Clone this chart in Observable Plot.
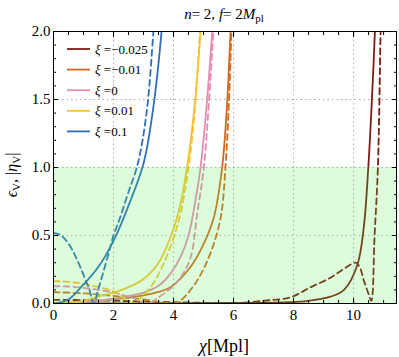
<!DOCTYPE html>
<html><head><meta charset="utf-8">
<script src="https://cdn.jsdelivr.net/npm/d3@7"></script>
<script src="https://cdn.jsdelivr.net/npm/@observablehq/plot@0.6"></script>
<style>body{margin:0;background:#fff} svg text, svg tspan{font-family:"Liberation Serif","Times New Roman",serif !important}</style>
</head><body><div id="chart"></div>
<script>
// xi values and colours
const xiLabels = ["\u22120.025", "\u22120.01", "0", "0.01", "0.1"];
const xiColors = ["#7a1c10", "#d2691e", "#e88ab2", "#f7c131", "#2f6dbf"];

// epsilon_V (solid) and |eta_V| (dashed) for each xi
const chiEpsA = [0, 2, 4, 6, 7.9, 8.5, 9.23, 9.68, 10.12, 10.34, 10.49, 10.6, 10.71, 10.78];
const epsA    = [0, 0.001, 0.002, 0.004, 0.01, 0.02, 0.05, 0.1, 0.28, 0.56, 1.0, 1.45, 2.0, 2.5];
const chiEtaA = [0, 1, 2, 3, 4, 5, 6, 7, 7.9, 8.57, 9.23, 9.68, 10.07, 10.2, 10.34, 10.5, 10.59, 10.7, 10.81, 10.9, 10.95];
const etaA    = [0.027, 0.025, 0.02, 0.015, 0.01, 0.005, 0.002, 0.02, 0.046, 0.12, 0.19, 0.255, 0.30, 0.27, 0.17, 0.07, 0.02, 0.5, 1.0, 2.0, 2.5];

const chiEpsB = [0, 1, 2, 3, 3.5, 3.9, 4.57, 5.01, 5.34, 5.62, 5.78, 5.9, 6.0];
const epsB    = [0.005, 0.012, 0.03, 0.06, 0.085, 0.12, 0.27, 0.44, 0.63, 1.0, 1.45, 2.0, 2.5];
const chiEtaB = [0, 1, 2, 3, 3.6, 4.0, 4.23, 4.79, 5.23, 5.57, 5.73, 5.85, 5.93, 6.02];
const etaB    = [0.083, 0.075, 0.055, 0.03, 0.01, 0, 0.02, 0.17, 0.37, 0.63, 1.0, 1.5, 2.0, 2.5];

const chiEpsC = [0, 1, 2, 2.5, 3, 3.5, 3.9, 4.25, 4.5, 4.7, 4.9, 5.1, 5.29, 5.4];
const epsC    = [0, 0.01, 0.035, 0.055, 0.08, 0.13, 0.22, 0.35, 0.5, 0.72, 1.0, 1.45, 2.0, 2.4];
const chiEtaC = [0, 0.5, 1, 1.5, 2, 2.5, 2.9, 3.15, 3.4, 3.9, 4.23, 4.57, 4.79, 5.01, 5.17, 5.33, 5.45];
const etaC    = [0.127, 0.125, 0.115, 0.1, 0.08, 0.05, 0.02, 0, 0.03, 0.11, 0.19, 0.34, 0.66, 1.0, 1.45, 2.0, 2.4];

const chiEpsD = [0, 1, 1.5, 2, 2.5, 3, 3.5, 4, 4.25, 4.45, 4.7, 4.9, 5.0];
const epsD    = [0, 0.02, 0.05, 0.08, 0.12, 0.18, 0.3, 0.55, 0.75, 1.0, 1.45, 2.0, 2.4];
const chiEtaD = [0, 0.5, 1, 1.5, 2, 2.3, 2.62, 2.9, 3.3, 3.6, 4, 4.25, 4.5, 4.7, 4.88, 5.0];
const etaD    = [0.165, 0.16, 0.145, 0.12, 0.09, 0.05, 0, 0.04, 0.14, 0.26, 0.48, 0.68, 1.0, 1.4, 2.0, 2.4];

const chiEpsE = [0, 0.5, 1, 1.5, 2, 2.5, 3, 3.3, 3.6, 3.75];
const epsE    = [0, 0.03, 0.14, 0.27, 0.46, 0.72, 1.03, 1.4, 2.0, 2.5];
const chiEtaE = [0, 0.25, 0.5, 0.75, 1.0, 1.2, 1.34, 1.5, 1.8, 2.0, 2.2, 2.5, 2.8, 3.1, 3.33, 3.45];
const etaE    = [0.52, 0.5, 0.44, 0.34, 0.21, 0.1, 0, 0.11, 0.34, 0.5, 0.62, 0.82, 1.02, 1.4, 2.0, 2.4];

const chiSets = [[chiEpsA, epsA, chiEtaA, etaA], [chiEpsB, epsB, chiEtaB, etaB], [chiEpsC, epsC, chiEtaC, etaC], [chiEpsD, epsD, chiEtaD, etaD], [chiEpsE, epsE, chiEtaE, etaE]];

// slow-roll region 0 <= value <= 1
const slowRoll = [{lo: 0, hi: 1}];

const xTicksMajor = [0, 2, 4, 6, 8, 10];
const yTicksMajor = [0, 0.5, 1, 1.5, 2];
const xDomain = [0, 11.43];
const yDomain = [0, 2];

const zip = (xs, ys) => xs.map((x, i) => ({x, y: ys[i]}));

const lineMarks = [];
chiSets.forEach(([cx, e, hx, h], i) => {
  lineMarks.push(Plot.line(zip(cx, e), {x: "x", y: "y", stroke: xiColors[i], strokeWidth: 1.8, curve: "catmull-rom", clip: true}));
  lineMarks.push(Plot.line(zip(hx, h), {x: "x", y: "y", stroke: xiColors[i], strokeWidth: 1.8, strokeDasharray: "6,4", curve: "catmull-rom", clip: true}));
});

const xMinor = d3.range(0, 11.5, 0.5);
const yMinor = d3.range(0, 2.01, 0.1).map(v => +v.toFixed(2));
const serif = "Liberation Serif, Times New Roman, serif";

const chart = Plot.plot({
  width: 399, height: 357,
  marginLeft: 53, marginRight: 3, marginTop: 31, marginBottom: 54,
  style: {fontFamily: serif, fontSize: "15px", background: "#fff"},
  x: {domain: xDomain},
  y: {domain: yDomain},
  marks: [
    Plot.gridX(xTicksMajor.slice(1), {stroke: "#aaa", strokeOpacity: 1, strokeDasharray: "1.5,3"}),
    Plot.gridY([0.5, 1, 1.5], {stroke: "#aaa", strokeOpacity: 1, strokeDasharray: "1.5,3"}),
    ...lineMarks,
    Plot.rect(slowRoll, {y1: "lo", y2: "hi", fill: "#50f050", fillOpacity: 0.2}),
    Plot.frame({stroke: "#000", strokeWidth: 1}),
    Plot.axisX(xTicksMajor, {anchor: "bottom", tickSize: -5, tickPadding: 11, fontSize: 15, label: null}),
    Plot.axisX(xMinor, {anchor: "bottom", tickSize: -3, tickFormat: () => "", label: null}),
    Plot.axisX(xTicksMajor, {anchor: "top", tickSize: -5, tickFormat: () => "", label: null}),
    Plot.axisX(xMinor, {anchor: "top", tickSize: -3, tickFormat: () => "", label: null}),
    Plot.axisY(yTicksMajor, {anchor: "left", tickSize: -5, tickPadding: 8, tickFormat: d3.format(".1f"), fontSize: 15, label: null}),
    Plot.axisY(yMinor, {anchor: "left", tickSize: -3, tickFormat: () => "", label: null}),
    Plot.axisY(yTicksMajor, {anchor: "right", tickSize: -5, tickFormat: () => "", label: null}),
    Plot.axisY(yMinor, {anchor: "right", tickSize: -3, tickFormat: () => "", label: null})
  ]
});

const svg = d3.select(chart);

// title
const title = svg.append("text").attr("x", 224).attr("y", 19).attr("text-anchor", "middle")
  .attr("font-size", 15).attr("fill", "#000");
title.append("tspan").attr("font-style", "italic").text("n");
title.append("tspan").text("= 2, ");
title.append("tspan").attr("font-style", "italic").text("f");
title.append("tspan").text("= 2");
title.append("tspan").attr("font-style", "italic").text("M");
title.append("tspan").attr("font-size", 11).attr("dy", 3).text("pl");

// x label
const xl = svg.append("text").attr("x", 224).attr("y", 352).attr("text-anchor", "middle")
  .attr("font-size", 18).attr("fill", "#000");
xl.append("tspan").attr("font-style", "italic").text("\u03c7");
xl.append("tspan").text("[Mpl]");

// y label
const yl = svg.append("text").attr("transform", "translate(17,175) rotate(-90)").attr("text-anchor", "middle")
  .attr("font-size", 16).attr("fill", "#000");
yl.append("tspan").attr("font-style", "italic").text("\u03f5");
yl.append("tspan").attr("font-size", 11).attr("dy", 3).text("V");
yl.append("tspan").attr("dy", -3).text(", |");
yl.append("tspan").attr("font-style", "italic").text("\u03b7");
yl.append("tspan").attr("font-size", 11).attr("dy", 3).text("V");
yl.append("tspan").attr("dy", -3).text("|");

// legend
const lg = svg.append("g");
xiLabels.forEach((lab, i) => {
  const y = 49 + i * 20.6;
  lg.append("line").attr("x1", 67).attr("x2", 90).attr("y1", y).attr("y2", y)
    .attr("stroke", xiColors[i]).attr("stroke-width", 1.8);
  const t = lg.append("text").attr("x", 95).attr("y", y + 4.5).attr("text-anchor", "start")
    .attr("font-size", 13).attr("fill", "#000");
  t.append("tspan").attr("font-style", "italic").text("\u03be");
  t.append("tspan").text(" =" + lab);
});

document.getElementById("chart").appendChild(chart);
</script></body></html>
